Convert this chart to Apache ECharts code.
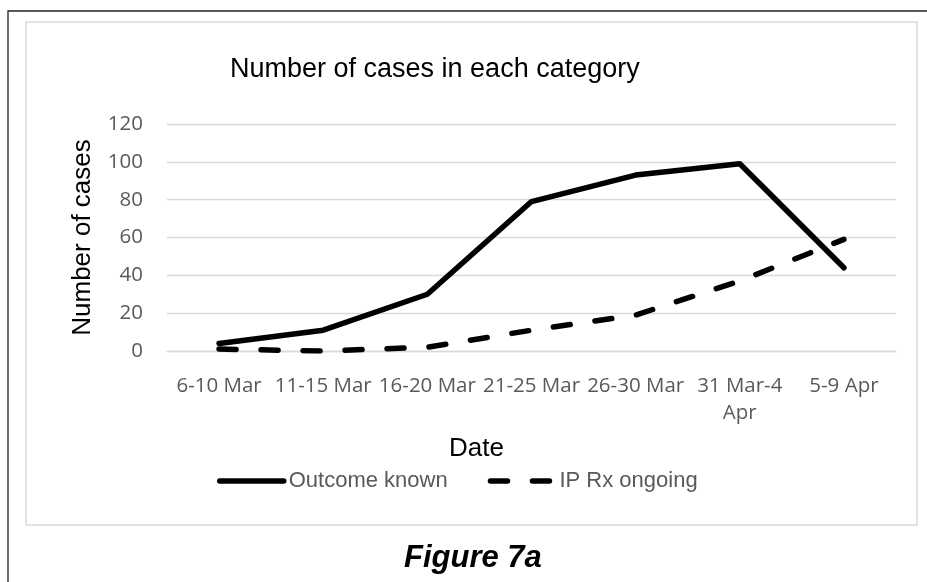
<!DOCTYPE html>
<html>
<head>
<meta charset="utf-8">
<title>Number of cases in each category</title>
<script src="https://cdn.jsdelivr.net/npm/echarts@6/dist/echarts.min.js"></script>
<style>
  html, body { margin: 0; padding: 0; background: #fff; }
  #main { width: 927px; height: 582px; }
</style>
</head>
<body>
<div id="main"></div>
<script>
// 数据
const categories = ["6-10 Mar", "11-15 Mar", "16-20 Mar", "21-25 Mar", "26-30 Mar", "31 Mar-4 Apr", "5-9 Apr"];
const outcomeKnown = [4, 11, 30, 79, 93, 99, 44];
const ipRxOngoing = [1, 0, 2, 11, 19, 37, 59];
const yTicks = { min: 0, max: 120, interval: 20 };

const grayText = "#595959";
const gridGray = "#d9d9d9";
const arial = "'Liberation Sans', Arial, sans-serif";
const tickFont = "'Open Sans', sans-serif";

const chart = echarts.init(document.getElementById("main"));

const option = {
  backgroundColor: "#fff",
  animation: false,
  title: {
    text: "Number of cases in each category",
    left: 230,
    top: 56,
    padding: 0,
    textStyle: { fontFamily: arial, fontSize: 27, fontWeight: "normal", color: "#000" },
  },
  legend: {
    left: 217,
    top: 470,
    padding: 0,
    itemWidth: 64,
    itemHeight: 14,
    itemGap: 40,
    itemStyle: { opacity: 0 },
    lineStyle: { width: 5.5, cap: "round" },
    textStyle: { fontFamily: arial, fontSize: 22, color: grayText },
    data: ["Outcome known", "IP Rx ongoing"],
  },
  grid: { left: 167, right: 31, top: 124, bottom: 231, containLabel: false },
  xAxis: {
    type: "category",
    data: categories,
    boundaryGap: true,
    name: "Date",
    nameLocation: "middle",
    nameGap: 85,
    nameTextStyle: { fontFamily: arial, fontSize: 26, color: "#000", padding: [0, 110, 0, 0] },
    axisLine: { show: true, lineStyle: { color: gridGray, width: 1.3 } },
    axisTick: { show: false },
    axisLabel: {
      interval: 0,
      margin: 22,
      fontFamily: tickFont,
      fontSize: 20.5,
      lineHeight: 27,
      color: grayText,
      // 过长的标签换行
      formatter: (v) => (v.length > 10 ? v.replace(/ (\S+)$/, "\n$1") : v),
    },
  },
  yAxis: {
    type: "value",
    min: yTicks.min,
    max: yTicks.max,
    interval: yTicks.interval,
    name: "Number of cases",
    nameLocation: "middle",
    nameGap: 71,
    nameTextStyle: { fontFamily: arial, fontSize: 26, color: "#000" },
    axisLine: { show: false },
    axisTick: { show: false },
    axisLabel: { margin: 24, fontFamily: tickFont, fontSize: 20.5, color: grayText },
    splitLine: { lineStyle: { color: gridGray, width: 1.3 } },
  },
  series: [
    {
      name: "Outcome known",
      type: "line",
      data: outcomeKnown,
      symbol: "none",
      lineStyle: { color: "#000", width: 5.5, cap: "round", join: "round" },
      itemStyle: { color: "#000" },
    },
    {
      name: "IP Rx ongoing",
      type: "line",
      data: ipRxOngoing,
      symbol: "none",
      lineStyle: { color: "#000", width: 5.5, type: [17, 25], cap: "round", join: "round" },
      itemStyle: { color: "#000" },
    },
  ],
  graphic: [
    {
      type: "rect",
      shape: { x: 26, y: 22, width: 891, height: 503 },
      style: { fill: null, stroke: gridGray, lineWidth: 1.5 },
      silent: true,
      z: -1,
    },
    {
      type: "rect",
      shape: { x: 8, y: 11, width: 940, height: 600 },
      style: { fill: null, stroke: "#222", lineWidth: 1.3 },
      silent: true,
      z: -1,
    },
    {
      type: "text",
      left: 404,
      top: 543,
      style: {
        text: "Figure 7a",
        fontFamily: arial,
        fontSize: 31,
        fontWeight: "bold",
        fontStyle: "italic",
        fill: "#000",
      },
    },
  ],
};

chart.setOption(option);
</script>
</body>
</html>
